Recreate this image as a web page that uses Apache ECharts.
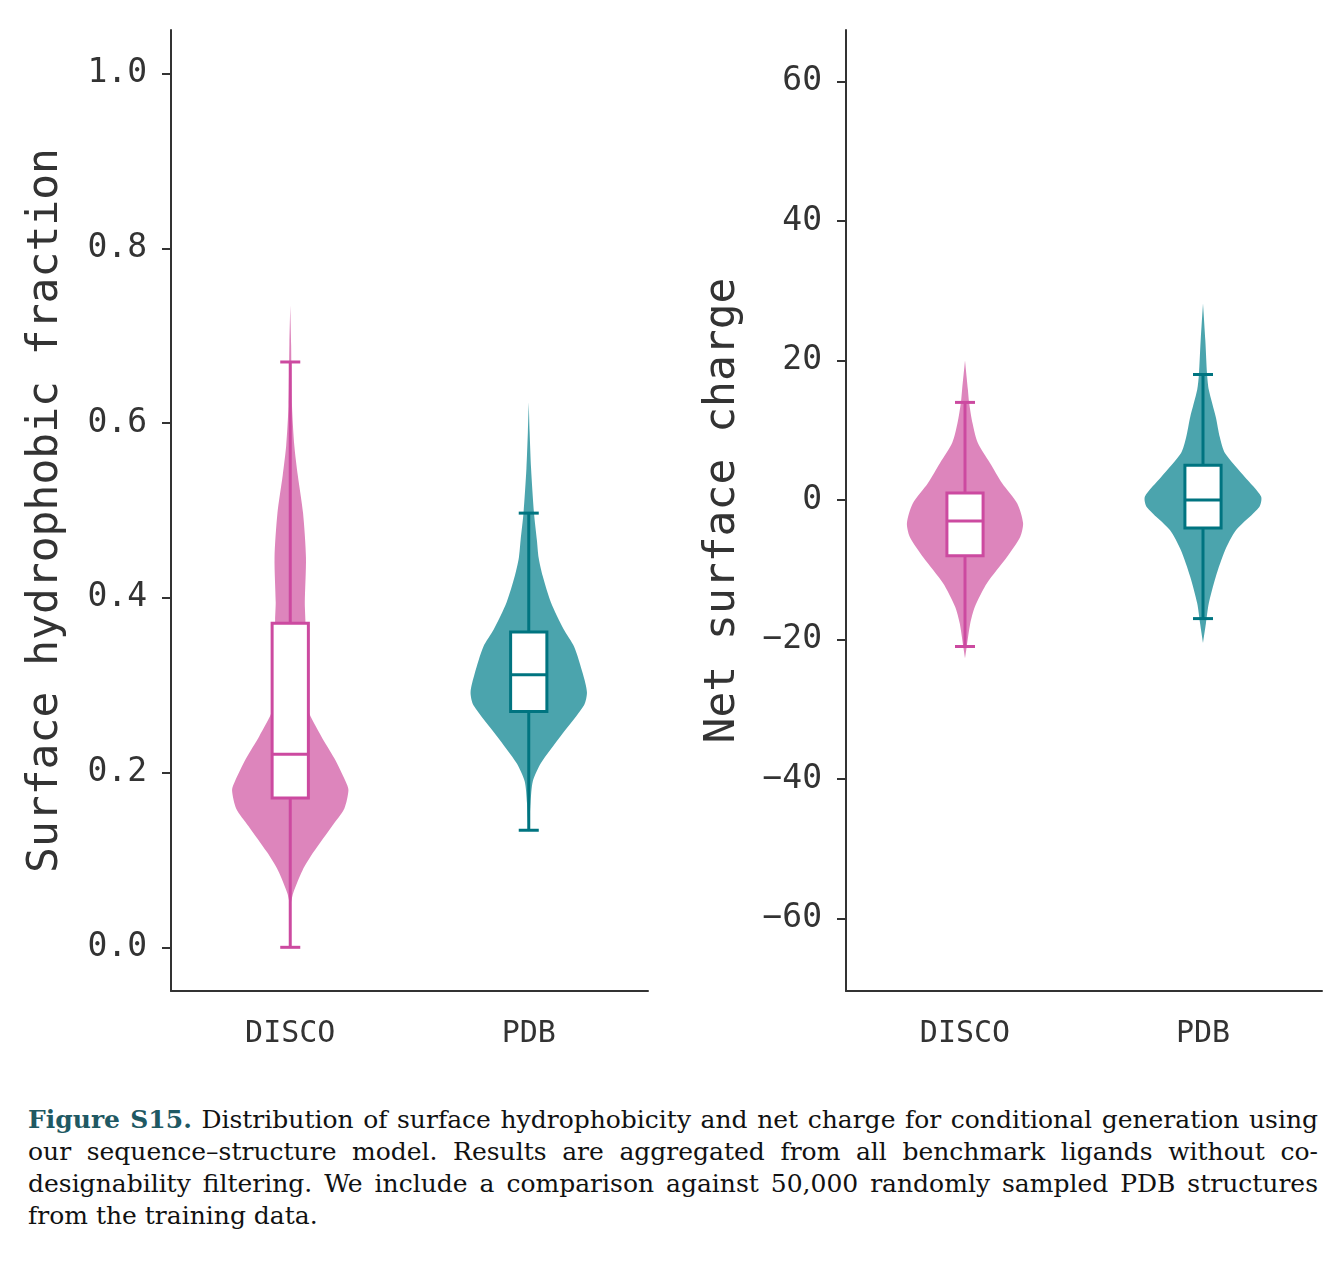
<!DOCTYPE html>
<html>
<head>
<meta charset="utf-8">
<title>Figure S15</title>
<script src="https://cdn.jsdelivr.net/npm/echarts@6/dist/echarts.min.js"></script>
<style>
body{margin:0;background:#fff;}
#chart{width:1338px;height:1075px;}
#caption{position:absolute;left:28px;top:1104px;width:1290px;font-family:"DejaVu Serif",serif;font-size:25px;line-height:32px;color:#111;}
#caption div{text-align:justify;text-align-last:justify;white-space:nowrap;}
#caption div.last{text-align-last:left;}
#caption b{color:#1f5963;}
</style>
</head>
<body>
<div id="chart"></div>
<div id="caption">
	<div><b>Figure S15.</b> Distribution of surface hydrophobicity and net charge for conditional generation using</div>
	<div>our sequence–structure model. Results are aggregated from all benchmark ligands without co-</div>
	<div>designability filtering. We include a comparison against 50,000 randomly sampled PDB structures</div>
	<div class="last">from the training data.</div>
</div>
<script>
var categories = ['DISCO', 'PDB'];

// violin outlines: [value, relative half width]
var hydroDisco = [[0.047,0],[0.062,0.05],[0.088,0.21],[0.109,0.40],[0.139,0.72],[0.159,0.93],[0.180,1.0],[0.190,0.95],
	[0.216,0.76],[0.242,0.53],[0.271,0.31],[0.30,0.29],[0.34,0.27],[0.375,0.26],[0.395,0.25],[0.446,0.27],
	[0.497,0.22],[0.54,0.13],[0.574,0.07],[0.62,0.03],[0.69,0.015],[0.735,0]];
var hydroPdb = [[0.132,0],[0.139,0.01],[0.165,0.03],[0.190,0.07],[0.211,0.21],[0.242,0.55],[0.277,0.95],[0.292,1.0],
	[0.313,0.93],[0.344,0.78],[0.364,0.60],[0.395,0.38],[0.425,0.24],[0.446,0.17],[0.466,0.14],[0.497,0.09],
	[0.548,0.04],[0.59,0.015],[0.624,0]];
var chargeDisco = [[-22.7,0],[-21.0,0.03],[-17.7,0.09],[-15.3,0.17],[-11.9,0.38],[-8.2,0.72],[-5.3,0.95],[-3.3,1.0],
	[-0.5,0.90],[2.4,0.64],[5.3,0.43],[8.2,0.22],[11.0,0.13],[14.0,0.07],[15.8,0.05],[20.0,0]];
var chargePdb = [[-20.5,0],[-17.7,0.05],[-14.8,0.10],[-11.0,0.22],[-7.2,0.38],[-4.3,0.57],[-1.0,0.97],[0.5,1.0],
	[3.3,0.72],[6.7,0.38],[9.0,0.29],[11.9,0.22],[15.8,0.10],[18.0,0.07],[22.9,0.04],[28.2,0]];

// [min, q1, median, q3, max]
var hydroBoxes = [[0.0, 0.171, 0.221, 0.371, 0.670], [0.134, 0.270, 0.312, 0.361, 0.497]];
var chargeBoxes = [[-21, -8, -3, 1, 14], [-17, -4, 0, 5, 18]];

var hydroTicks = [0, 0.2, 0.4, 0.6, 0.8, 1.0];
var chargeTicks = [-60, -40, -20, 0, 20, 40, 60];

var lineColors = ['#cc4aa0', '#007480'];
var fillColors = ['#dd85bc', '#4ba4ad'];

var violinHalf = 0.244, boxHalf = 0.076, capHalf = 0.042;
var monoFont = '"DejaVu Sans Mono", monospace';
var axisColor = '#333';

function violinItem(profiles, boxes){
	return function(params, api){
		var i = api.value(0);
		var band = api.size([1, 0])[0];
		var cx = api.coord([i, 0])[0];
		var left = [], right = [];
		profiles[i].forEach(function(p){
			var y = api.coord([i, p[0]])[1];
			var hw = p[1] * band * violinHalf;
			right.push([cx + hw, y]);
			left.unshift([cx - hw, y]);
		});
		var b = boxes[i];
		var yv = b.map(function(v){ return api.coord([i, v])[1]; });
		var bh = band * boxHalf, ch = band * capHalf;
		var stroke = {stroke: lineColors[i], lineWidth: 3};
		return {
			type: 'group',
			children: [
				{type: 'polygon', shape: {points: right.concat(left), smooth: 0.25}, style: {fill: fillColors[i]}},
				{type: 'line', shape: {x1: cx, y1: yv[0], x2: cx, y2: yv[4]}, style: stroke},
				{type: 'line', shape: {x1: cx - ch, y1: yv[0], x2: cx + ch, y2: yv[0]}, style: stroke},
				{type: 'line', shape: {x1: cx - ch, y1: yv[4], x2: cx + ch, y2: yv[4]}, style: stroke},
				{type: 'rect', shape: {x: cx - bh, y: yv[3], width: bh * 2, height: yv[1] - yv[3]},
					style: {fill: '#fff', stroke: lineColors[i], lineWidth: 3}},
				{type: 'line', shape: {x1: cx - bh, y1: yv[2], x2: cx + bh, y2: yv[2]}, style: stroke}
			]
		};
	};
}

function xAxisOpt(idx){
	return {
		type: 'category', gridIndex: idx, data: categories, boundaryGap: true,
		axisLine: {onZero: false, lineStyle: {color: axisColor, width: 2}},
		axisTick: {alignWithLabel: true, length: 9, lineStyle: {color: axisColor, width: 2}},
		axisLabel: {color: axisColor, fontFamily: monoFont, fontSize: 30, margin: 28},
		splitLine: {show: false}
	};
}

function yAxisOpt(idx, min, max, ticks, name, gap, fmt){
	return {
		type: 'value', gridIndex: idx, min: min, max: max,
		name: name, nameLocation: 'middle', nameRotate: 90, nameGap: gap,
		nameTextStyle: {color: axisColor, fontFamily: monoFont, fontSize: 43},
		axisLine: {show: true, onZero: false, lineStyle: {color: axisColor, width: 2}},
		axisTick: {show: true, length: 9, customValues: ticks, lineStyle: {color: axisColor, width: 2}},
		axisLabel: {color: axisColor, fontFamily: monoFont, fontSize: 33, margin: 24, customValues: ticks, formatter: fmt},
		splitLine: {show: false}
	};
}

var myChart = echarts.init(document.getElementById('chart'));
var option = {
	animation: false,
	grid: [
		{left: 171, top: 30, width: 477, height: 961},
		{left: 846, top: 30, width: 476, height: 961}
	],
	xAxis: [xAxisOpt(0), xAxisOpt(1)],
	yAxis: [
		yAxisOpt(0, -0.05, 1.05, hydroTicks, 'Surface hydrophobic fraction', 104, function(v){ return v.toFixed(1); }),
		yAxisOpt(1, -70.4, 67.4, chargeTicks, 'Net surface charge', 102, function(v){ return v < 0 ? '\u2212' + Math.abs(v) : String(v); })
	],
	series: [
		{type: 'custom', xAxisIndex: 0, yAxisIndex: 0, renderItem: violinItem([hydroDisco, hydroPdb], hydroBoxes),
			encode: {x: 0, y: 1}, data: [[0, hydroBoxes[0][2]], [1, hydroBoxes[1][2]]]},
		{type: 'custom', xAxisIndex: 1, yAxisIndex: 1, renderItem: violinItem([chargeDisco, chargePdb], chargeBoxes),
			encode: {x: 0, y: 1}, data: [[0, chargeBoxes[0][2]], [1, chargeBoxes[1][2]]]}
	]
};
myChart.setOption(option);
window.addEventListener("resize", function(){
	myChart.resize();
});
</script>
</body>
</html>
